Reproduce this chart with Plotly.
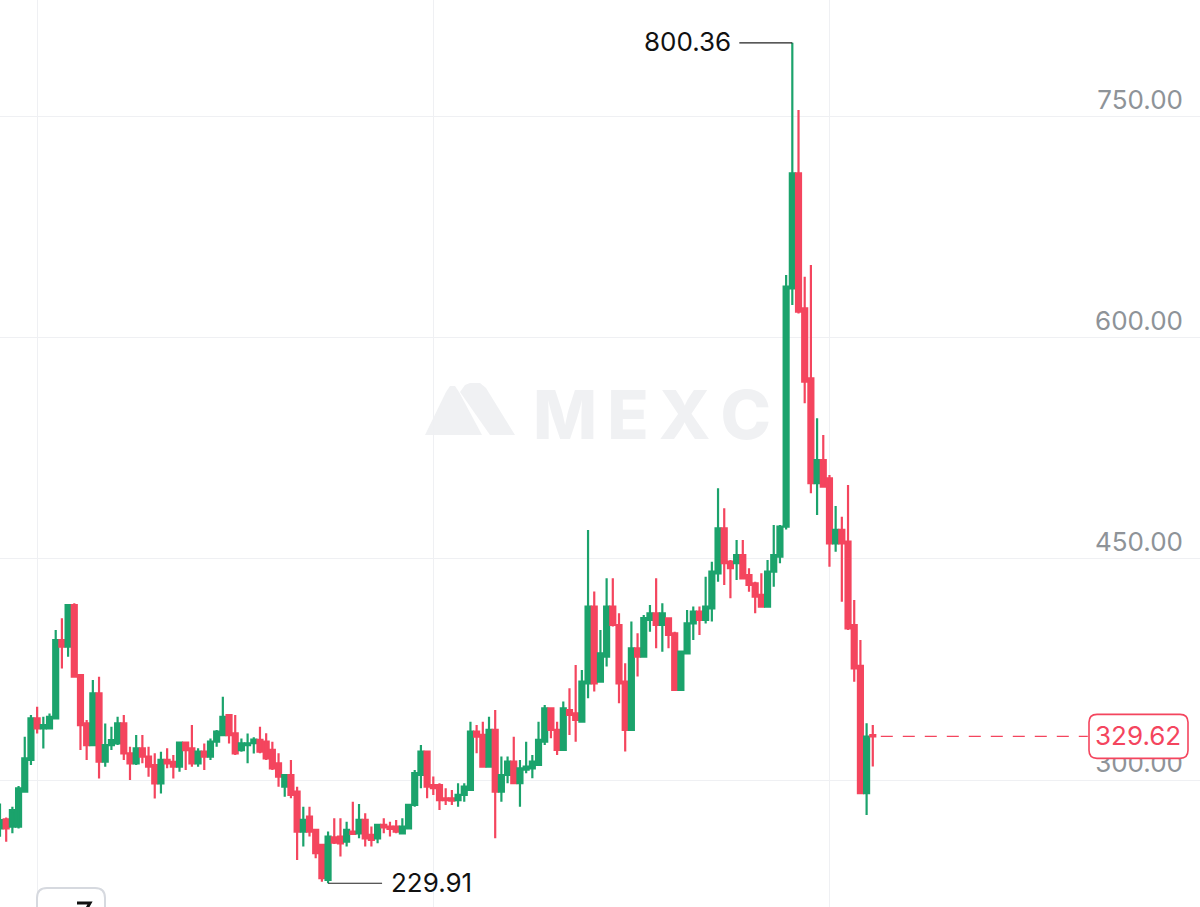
import plotly.graph_objects as go

# ---------------- data ----------------
candle_index = list(range(142))

opens = [
    267.1, 273.3, 268.3, 268.3, 292.1, 313.6, 341.8, 335.0, 335.0, 341.8,
    395.0, 390.5, 418.7, 371.2, 338.4, 323.7, 358.8, 312.4, 323.7, 324.8,
    338.4, 318.1, 311.3, 321.5, 315.8, 310.1, 297.7, 313.6, 312.4, 309.0,
    325.3, 321.5, 311.3, 319.2, 315.8, 326.0, 330.5, 344.1, 331.6, 320.3,
    323.7, 325.0, 327.2, 326.0, 320.4, 311.3, 295.5, 303.4, 292.1, 265.0,
    275.1, 266.1, 255.9, 232.2, 261.1, 261.6, 258.2, 265.0, 263.8, 272.9,
    262.7, 260.4, 269.5, 268.4, 268.4, 263.8, 267.2, 283.1, 303.4, 319.3,
    296.6, 296.6, 287.6, 287.6, 286.4, 289.9, 293.2, 332.8, 330.6, 309.1,
    334.0, 292.1, 303.4, 312.5, 297.8, 307.1, 307.9, 310.2, 326.0, 348.7,
    334.0, 320.4, 347.5, 345.3, 339.6, 365.6, 417.7, 366.8, 383.7, 417.7,
    405.2, 366.8, 334.0, 389.4, 383.7, 408.6, 413.1, 405.2, 409.7, 399.6,
    361.1, 386.0, 406.3, 414.3, 408.6, 416.5, 440.3, 470.8, 448.2, 447.1,
    452.7, 439.1, 433.5, 425.6, 417.7, 441.4, 451.6, 472.0, 633.7, 711.8,
    620.1, 572.6, 501.4, 517.2, 504.8, 460.6, 469.7, 461.8, 405.2, 377.4,
    291.0, 330.5,
]
highs = [
    284.1, 274.5, 281.9, 295.9, 329.4, 344.1, 349.7, 342.9, 345.2, 401.8,
    409.7, 418.7, 419.9, 371.2, 340.7, 367.8, 370.1, 338.4, 336.2, 342.9,
    344.1, 322.6, 330.5, 330.5, 322.6, 318.1, 319.2, 321.5, 316.9, 326.0,
    326.0, 337.3, 321.5, 324.8, 328.2, 333.9, 356.5, 344.1, 344.1, 328.2,
    331.6, 329.0, 336.2, 331.7, 326.0, 318.1, 303.4, 313.6, 295.5, 281.9,
    281.9, 266.1, 255.9, 265.0, 274.0, 274.0, 271.7, 285.3, 283.7, 277.4,
    268.4, 269.5, 274.0, 271.7, 272.9, 274.0, 283.1, 306.8, 323.8, 319.3,
    302.3, 297.8, 294.4, 293.2, 297.8, 297.8, 339.6, 337.3, 339.6, 343.0,
    347.5, 315.9, 315.9, 329.4, 313.6, 326.0, 317.0, 339.6, 350.9, 348.7,
    339.6, 353.2, 362.2, 378.1, 374.7, 469.7, 427.9, 401.8, 436.9, 436.9,
    413.2, 379.2, 407.5, 399.6, 412.0, 418.8, 436.9, 419.9, 409.7, 400.7,
    387.1, 415.4, 417.7, 417.7, 438.0, 448.2, 498.0, 484.4, 449.3, 462.9,
    462.9, 443.7, 434.6, 440.3, 449.3, 473.1, 473.1, 642.7, 800.36, 754.7,
    641.6, 649.5, 545.5, 534.2, 507.0, 486.0, 478.7, 500.2, 422.2, 395.0,
    338.5, 337.3,
]
lows = [
    261.5, 258.1, 263.8, 267.1, 292.1, 310.1, 331.6, 321.4, 335.0, 341.8,
    375.7, 383.7, 370.1, 320.3, 313.6, 323.7, 301.1, 309.0, 320.3, 323.7,
    313.6, 300.0, 310.1, 311.3, 302.2, 287.5, 290.9, 307.9, 301.1, 305.6,
    306.7, 309.0, 309.0, 306.7, 313.6, 322.6, 330.5, 324.8, 316.9, 319.2,
    311.3, 318.0, 318.1, 313.6, 306.8, 295.5, 288.7, 287.6, 245.7, 254.8,
    261.6, 246.9, 231.0, 229.91, 256.6, 248.0, 254.8, 262.7, 260.4, 254.8,
    254.8, 257.0, 263.8, 261.6, 263.8, 263.8, 267.2, 281.9, 294.4, 287.6,
    289.9, 279.7, 283.1, 283.1, 281.9, 285.3, 293.2, 318.1, 309.1, 309.1,
    260.4, 285.3, 297.8, 297.8, 281.9, 304.6, 301.2, 310.2, 323.8, 328.3,
    317.0, 320.4, 330.6, 326.0, 339.6, 355.5, 360.0, 366.8, 377.0, 404.1,
    352.1, 319.3, 334.0, 370.2, 383.7, 400.7, 389.4, 387.1, 389.4, 361.1,
    361.1, 386.0, 395.0, 398.4, 406.3, 407.5, 434.6, 432.4, 423.3, 435.8,
    436.9, 427.8, 413.1, 417.7, 417.7, 431.2, 447.1, 470.0, 622.4, 616.7,
    555.7, 494.6, 479.9, 499.1, 444.8, 455.0, 421.0, 401.8, 366.7, 291.0,
    276.3, 309.1,
]
closes = [
    272.8, 267.1, 279.6, 294.3, 314.7, 341.8, 335.0, 337.3, 342.9, 395.0,
    390.5, 418.7, 370.1, 337.3, 323.7, 358.8, 312.4, 323.7, 327.1, 338.4,
    318.1, 311.3, 321.5, 315.8, 309.0, 297.7, 313.6, 311.3, 309.0, 325.3,
    320.3, 311.3, 319.2, 315.8, 326.0, 332.8, 342.9, 330.5, 318.1, 324.8,
    324.8, 327.5, 319.3, 314.7, 307.9, 302.3, 303.4, 289.9, 265.0, 272.9,
    265.0, 250.3, 233.3, 261.6, 257.5, 257.0, 266.1, 263.4, 272.9, 260.4,
    259.3, 269.5, 267.9, 266.8, 265.0, 268.4, 283.1, 304.6, 319.3, 295.5,
    294.4, 286.4, 286.4, 286.0, 289.9, 295.5, 332.8, 329.4, 309.1, 334.0,
    292.1, 303.4, 312.5, 297.8, 307.9, 309.1, 312.5, 327.2, 348.7, 334.0,
    320.4, 348.7, 344.1, 340.8, 366.8, 417.7, 365.6, 386.0, 417.7, 405.2,
    365.6, 334.0, 389.4, 383.7, 409.8, 413.1, 405.2, 413.1, 398.4, 361.1,
    387.1, 406.3, 414.3, 408.6, 417.7, 441.4, 470.8, 447.1, 443.7, 452.7,
    436.9, 432.4, 424.4, 417.7, 441.4, 452.7, 472.0, 634.8, 711.8, 617.9,
    570.4, 501.4, 517.2, 499.1, 460.6, 469.7, 460.6, 402.9, 375.8, 291.0,
    329.4, 329.62,
]

price_ticks = [300, 450, 600, 750]
period_gridlines = [6, 70, 134]
high_label = "800.36"
low_label = "229.91"
last_label = "329.62"

# ---------------- style ----------------
W, H = 1200, 907
GREEN = "#1ba36c"
RED = "#f4455e"
GRID = "#eff0f3"
FONT = "Inter"
WATER = "#f0f1f3"


def px(x, y):
    """pixel -> paper coordinates (margins are zero)"""
    return x / W, 1 - y / H


def path_px(points, close=True):
    s = ""
    for k, (x, y) in enumerate(points):
        a, b = px(x, y)
        s += ("M" if k == 0 else "L") + f"{a:.5f},{b:.5f} "
    return s + ("Z" if close else "")


hi_i = max(candle_index, key=lambda i: highs[i])
lo_i = min(candle_index, key=lambda i: lows[i])
last_i = candle_index[-1]

fig = go.Figure(
    go.Candlestick(
        x=candle_index,
        open=opens,
        high=highs,
        low=lows,
        close=closes,
        increasing=dict(line=dict(color=GREEN, width=2.2), fillcolor=GREEN),
        decreasing=dict(line=dict(color=RED, width=2.2), fillcolor=RED),
        whiskerwidth=0,
        hoverinfo="skip",
        showlegend=False,
    )
)

shapes = []
# high marker line
shapes.append(dict(type="line", xref="x", yref="y", xsizemode="pixel", xanchor=hi_i,
                   x0=-53, x1=0, y0=highs[hi_i], y1=highs[hi_i],
                   line=dict(color="#222222", width=1.2), layer="above"))
# low marker line
shapes.append(dict(type="line", xref="x", yref="y", xsizemode="pixel", xanchor=lo_i,
                   x0=0, x1=54, y0=lows[lo_i], y1=lows[lo_i],
                   line=dict(color="#222222", width=1.2), layer="above"))
# last price dashed line
shapes.append(dict(type="line", xref="x", yref="y", xsizemode="pixel", xanchor=last_i,
                   x0=8, x1=215, y0=closes[-1], y1=closes[-1],
                   line=dict(color=RED, width=1.3, dash="12px,10px"), layer="above"))
# last price rounded box (pixel-sized, anchored to right edge and price)
r = 8
bx0, bx1, by0, by1 = -111, -12, -22, 22
box_path = (f"M{bx0 + r},{by0} L{bx1 - r},{by0} Q{bx1},{by0} {bx1},{by0 + r} "
            f"L{bx1},{by1 - r} Q{bx1},{by1} {bx1 - r},{by1} L{bx0 + r},{by1} "
            f"Q{bx0},{by1} {bx0},{by1 - r} L{bx0},{by0 + r} Q{bx0},{by0} {bx0 + r},{by0} Z")
shapes.append(dict(type="path", xref="paper", yref="y", xsizemode="pixel", ysizemode="pixel",
                   xanchor=1, yanchor=closes[-1], path=box_path,
                   fillcolor="white", line=dict(color=RED, width=1.6), layer="above"))

# watermark logo: a rounded triangle and a slanted band
left_peak = [(425, 435), (446, 392), (450, 386), (455, 386), (459, 392), (482, 435)]
right_band = [(460, 392), (465, 385), (470, 383), (480, 383), (486, 388), (515, 435), (490, 435)]
for pts in (left_peak, right_band):
    shapes.append(dict(type="path", xref="paper", yref="paper", path=path_px(pts),
                       fillcolor=WATER, line=dict(width=0), layer="below"))

# bottom-left rounded button (cut off by the frame)
btn = (f"M{px(37, 925)[0]:.5f},{px(37, 925)[1]:.5f} "
       f"L{px(37, 898)[0]:.5f},{px(37, 898)[1]:.5f} "
       f"Q{px(37, 888)[0]:.5f},{px(37, 888)[1]:.5f} {px(47, 888)[0]:.5f},{px(47, 888)[1]:.5f} "
       f"L{px(95, 888)[0]:.5f},{px(95, 888)[1]:.5f} "
       f"Q{px(105, 888)[0]:.5f},{px(105, 888)[1]:.5f} {px(105, 898)[0]:.5f},{px(105, 898)[1]:.5f} "
       f"L{px(105, 925)[0]:.5f},{px(105, 925)[1]:.5f}")
shapes.append(dict(type="path", xref="paper", yref="paper", path=btn,
                   fillcolor="white", line=dict(color="#d6d9df", width=2), layer="above"))
shapes.append(dict(type="path", xref="paper", yref="paper",
                   path=path_px([(77, 903), (90, 903), (86, 910)], close=False),
                   line=dict(color="#111111", width=3), layer="above"))

annotations = [
    dict(x=hi_i, y=highs[hi_i], xref="x", yref="y", text=high_label, showarrow=False,
         xanchor="right", yanchor="middle", xshift=-59, yshift=1,
         font=dict(family=FONT, size=26, color="#111111")),
    dict(x=lo_i, y=lows[lo_i], xref="x", yref="y", text=low_label, showarrow=False,
         xanchor="left", yanchor="middle", xshift=61, yshift=1,
         font=dict(family=FONT, size=26, color="#111111")),
    dict(x=1, y=closes[-1], xref="paper", yref="y", text=last_label, showarrow=False,
         xanchor="right", yanchor="middle", xshift=-17, yshift=1,
         font=dict(family=FONT, size=26, color=RED)),
    dict(x=px(652, 414)[0], y=px(652, 414)[1], xref="paper", yref="paper",
         text="M\u2009E\u2009X\u2009C", showarrow=False, xanchor="center", yanchor="middle",
         font=dict(family=FONT, size=68, color=WATER, weight=800)),
]

fig.update_layout(
    width=W, height=H,
    margin=dict(l=0, r=0, t=0, b=0),
    paper_bgcolor="white", plot_bgcolor="white",
    showlegend=False, hovermode=False,
    boxgap=0.2, boxgroupgap=0,
    shapes=shapes, annotations=annotations,
    xaxis=dict(range=[0, W / 6.19], showticklabels=False, tickvals=period_gridlines,
               showgrid=True, gridcolor=GRID, gridwidth=1, zeroline=False, showline=False,
               rangeslider=dict(visible=False), fixedrange=True, ticks=""),
    yaxis=dict(range=[213.8, 829.4], side="right", tickvals=price_ticks,
               tickformat=".2f", ticklabelposition="inside top", ticks="",
               ticklabelstandoff=14, ticklabelshift=1, showline=False,
               tickfont=dict(family=FONT, size=26, color="#8e9398"),
               showgrid=True, gridcolor=GRID, gridwidth=1, zeroline=False,
               fixedrange=True),
)

fig.write_html(
    "out.html",
    config={"displayModeBar": False, "staticPlot": True},
    post_script="document.body.style.margin='0';document.body.style.overflow='hidden';",
)
